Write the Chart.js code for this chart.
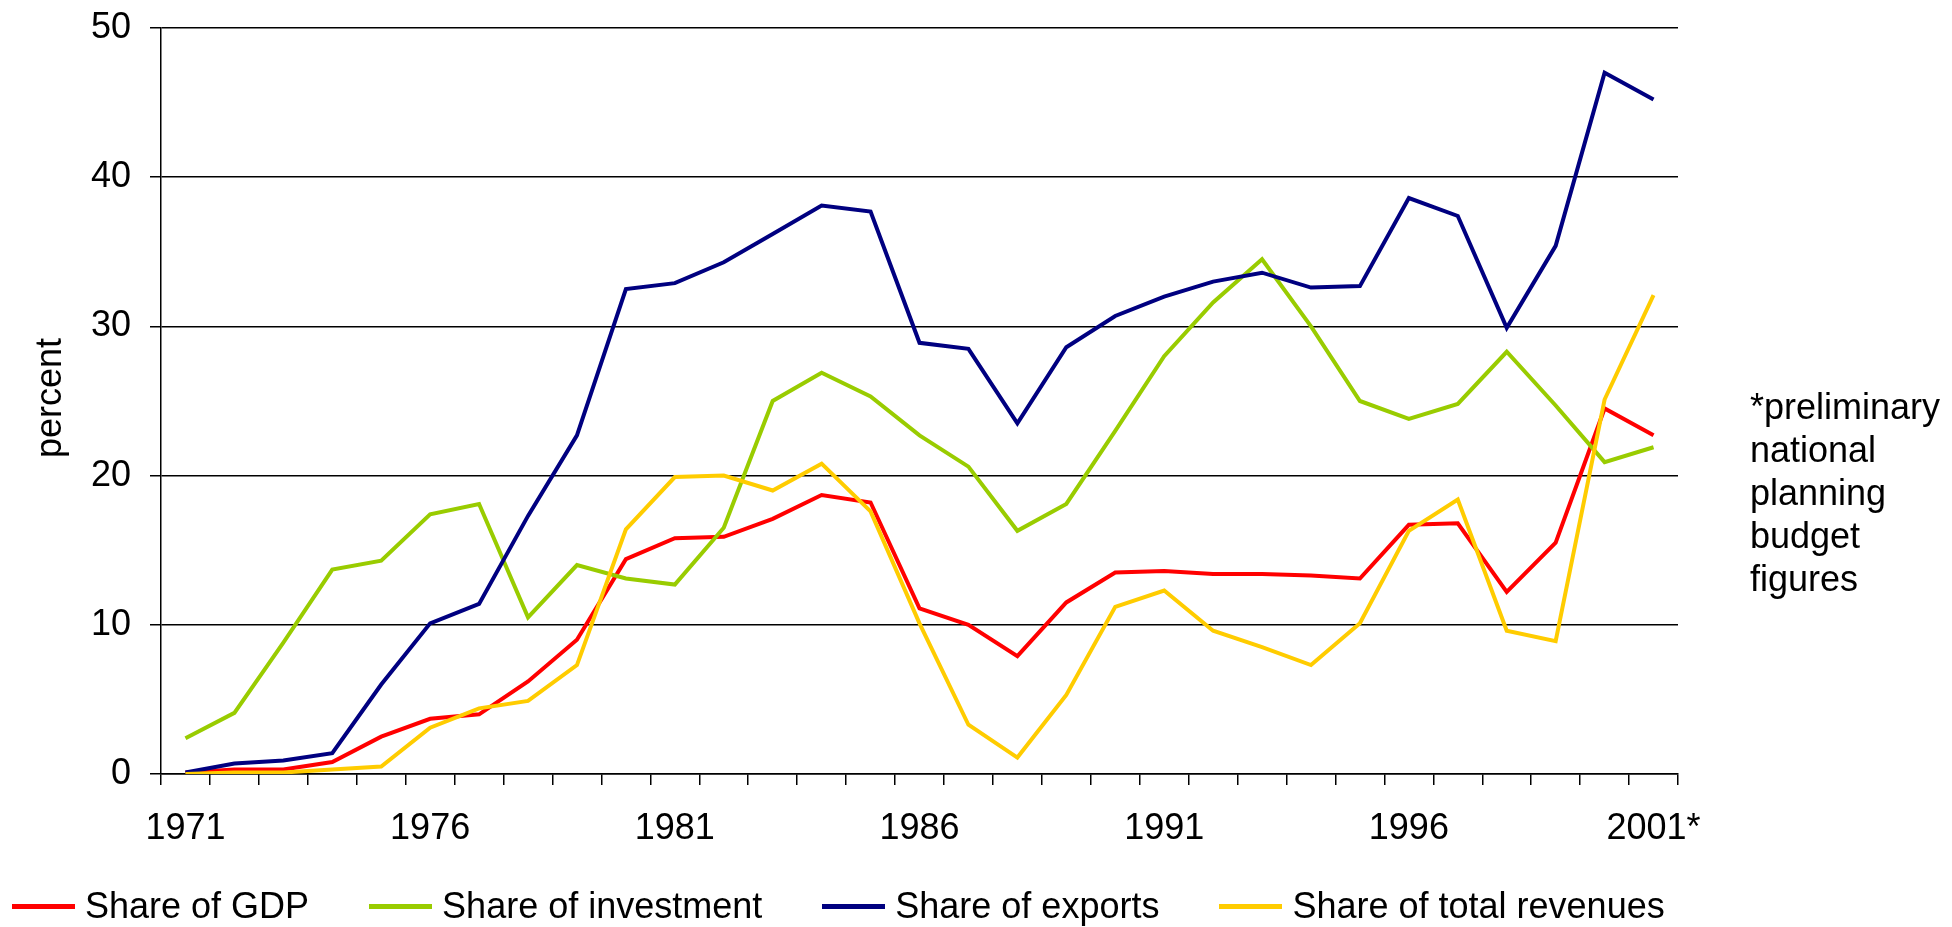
<!DOCTYPE html>
<html>
<head>
<meta charset="utf-8">
<script src="https://cdn.jsdelivr.net/npm/chart.js@4/dist/chart.umd.min.js"></script>
<style>
    body { margin: 0; background: #fff; font-family: "Liberation Sans", Arial, sans-serif; }
    #wrap { position: relative; width: 1952px; height: 927px; }
    #ytitle { position: absolute; left: -51px; top: 380px; width: 200px; height: 36px; line-height: 36px; font-size: 36px; text-align: center; color: #000; transform: rotate(-90deg); }
    #note { position: absolute; left: 1750px; top: 385px; font-size: 36px; line-height: 43px; color: #000; }
    #legend { position: absolute; left: 12px; top: 884px; display: flex; font-size: 36px; line-height: 44px; color: #000; }
    .item { display: flex; align-items: center; margin-right: 60px; }
    .swatch { width: 63px; height: 5px; margin-right: 10px; }
</style>
</head>
<body>
<div id="wrap">
    <canvas id="chart"></canvas>
    <div id="ytitle">percent</div>
    <div id="note">*preliminary<br>national<br>planning<br>budget<br>figures</div>
    <div id="legend"></div>
</div>
<script>
// years on the category axis, last one is the preliminary figure
const years = ['1971', '1972', '1973', '1974', '1975', '1976', '1977', '1978', '1979', '1980',
    '1981', '1982', '1983', '1984', '1985', '1986', '1987', '1988', '1989', '1990',
    '1991', '1992', '1993', '1994', '1995', '1996', '1997', '1998', '1999', '2000', '2001*'];

const shareGdp = [0.1, 0.3, 0.3, 0.8, 2.5, 3.7, 4.0, 6.2, 9.0, 14.4,
    15.8, 15.9, 17.1, 18.7, 18.2, 11.1, 10.0, 7.9, 11.5, 13.5,
    13.6, 13.4, 13.4, 13.3, 13.1, 16.7, 16.8, 12.2, 15.5, 24.5, 22.7];

const shareInvestment = [2.4, 4.1, 8.8, 13.7, 14.3, 17.4, 18.1, 10.5, 14.0, 13.1,
    12.7, 16.5, 25.0, 26.9, 25.3, 22.7, 20.6, 16.3, 18.1, 23.0,
    28.0, 31.6, 34.5, 30.0, 25.0, 23.8, 24.8, 28.3, 24.7, 20.9, 21.9];

const shareExports = [0.1, 0.7, 0.9, 1.4, 6.0, 10.1, 11.4, 17.3, 22.7, 32.5,
    32.9, 34.3, 36.2, 38.1, 37.7, 28.9, 28.5, 23.5, 28.6, 30.7,
    32.0, 33.0, 33.6, 32.6, 32.7, 38.6, 37.4, 29.9, 35.4, 47.0, 45.2];

const shareRevenues = [0.0, 0.1, 0.1, 0.3, 0.5, 3.1, 4.4, 4.9, 7.3, 16.4,
    19.9, 20.0, 19.0, 20.8, 17.6, 10.1, 3.3, 1.1, 5.3, 11.2,
    12.3, 9.6, 8.5, 7.3, 10.1, 16.3, 18.4, 9.6, 8.9, 25.1, 32.1];

const yTicks = [0, 10, 20, 30, 40, 50];

const seriesNames = ['Share of GDP', 'Share of investment', 'Share of exports', 'Share of total revenues'];
const seriesColors = ['#FF0000', '#99CC00', '#000080', '#FFCC00'];

const font = { family: '"Liberation Sans", Arial, sans-serif', size: 36 };
// small lineHeight on y labels so chart.js does not push the plot top down
const yFont = { family: '"Liberation Sans", Arial, sans-serif', size: 36, lineHeight: 0.4 };

// excel draws later series on top, chart.js does the opposite, so flip with order
const datasets = [shareGdp, shareInvestment, shareExports, shareRevenues].map((values, i) => ({
    label: seriesNames[i],
    data: values,
    borderColor: seriesColors[i],
    backgroundColor: seriesColors[i],
    borderWidth: 4,
    pointRadius: 0,
    tension: 0,
    fill: false,
    order: 3 - i
}));

const ctx = document.getElementById('chart').getContext('2d');

new Chart(ctx, {
    type: 'line',
    data: {
        labels: years,
        datasets: datasets
    },
    options: {
        responsive: true,
        maintainAspectRatio: false,
        animation: false,
        layout: {
            padding: { left: 0, right: 274, top: 28, bottom: 73 }
        },
        plugins: {
            legend: { display: false },
            tooltip: { enabled: false }
        },
        scales: {
            x: {
                offset: true,
                grid: {
                    offset: true,
                    drawOnChartArea: false,
                    drawTicks: true,
                    tickLength: 11,
                    color: '#000',
                    lineWidth: 1.5
                },
                border: { display: true, color: '#000', width: 1.5 },
                ticks: {
                    autoSkip: false,
                    maxRotation: 0,
                    padding: 22,
                    color: '#000',
                    font: font,
                    callback: function (value, index) {
                        return index % 5 === 0 ? years[index] : '';
                    }
                },
                afterFit: function (scale) {
                    scale.height = 80;
                }
            },
            y: {
                min: 0,
                max: 50,
                afterBuildTicks: function (scale) {
                    scale.ticks = yTicks.map(v => ({ value: v }));
                },
                grid: {
                    color: '#000',
                    lineWidth: 1.5,
                    drawTicks: true,
                    tickLength: 11
                },
                border: { display: true, color: '#000', width: 1.5 },
                ticks: {
                    padding: 19,
                    color: '#000',
                    font: yFont
                },
                afterFit: function (scale) {
                    scale.width = 161;
                }
            }
        }
    }
});

// legend drawn as html so item spacing follows the excel one
const legendBox = document.getElementById('legend');
seriesNames.forEach((name, i) => {
    const item = document.createElement('div');
    item.className = 'item';
    item.innerHTML = `<span class="swatch" style="background:${seriesColors[i]}"></span><span>${name}</span>`;
    legendBox.appendChild(item);
});
</script>
</body>
</html>
